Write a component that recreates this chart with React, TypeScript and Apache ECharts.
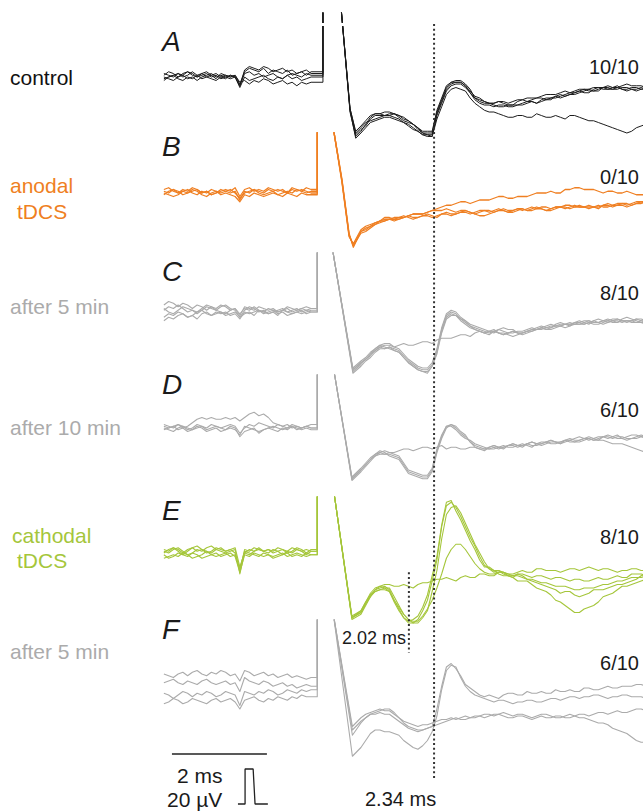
import React, { useEffect, useRef } from "react";
import * as echarts from "echarts";

// ---------- time bases (ms) ----------
const PRE_T = [-3.35, -3.25, -3.15, -3.05, -2.95, -2.85, -2.75, -2.65, -2.55, -2.45, -2.35, -2.25, -2.15, -2.05, -1.95, -1.85, -1.75, -1.65, -1.55, -1.45, -1.35, -1.25, -1.15, -1.05, -0.95, -0.85, -0.75, -0.65, -0.55, -0.45, -0.35, -0.25];
const TAIL_T = [0.8, 1.0, 1.2, 1.4, 1.6, 1.8, 2.0, 2.2, 2.4, 2.6, 2.8, 3.0, 3.2, 3.4, 3.6, 3.8, 4.0, 4.2, 4.4, 4.6, 4.8, 5.0, 5.2, 5.4, 5.6, 5.8, 6.0, 6.2, 6.4, 6.6, 6.8];
const MID_T = [0.9, 1.1, 1.3, 1.5, 1.7, 1.9, 2.1, 2.3, 2.5, 2.7, 2.9, 3.1, 3.3, 3.5, 3.7, 3.9, 4.1, 4.3, 4.5, 4.7, 4.9, 5.1, 5.3, 5.5, 5.7, 5.9, 6.1, 6.3, 6.5, 6.7];
const HEAD_T_A = [0.38, 0.57, 0.69];
const HEAD_T_B = [0.2, 0.4, 0.55, 0.64];
const HEAD_T_C = [0.2, 0.63];
const HEAD_T_D = [0.23, 0.61];
const HEAD_T_E = [0.23, 0.61];
const HEAD_T_F = [0.22, 0.62];
const STIM_A = 0;
const STIM_OTHERS = -0.12;
const ART_TOP = 90; // saturated stimulus artefact (µV, off scale)
const LAT_MAIN = 2.34;
const LAT_E = 1.81;

// ---------- A: control (µV) ----------
const A_PRE = [
  [1, 3, 2, 0, 2, 3, 1, 0, 2, 3, 1, 2, 0, -1, 1, 0, -5, 2, 3, 1, 2, 0, 1, 2, 0, -1, 1, 2, 1, 0, 2, 1],
  [-1, 0, 1, 2, 0, 1, 3, 1, -1, 0, 1, -1, 2, 1, 0, 1, -4, 3, 5, 4, 3, 5, 2, 4, 3, 2, 4, 1, 2, 3, 1, 3],
  [0, -1, -2, 0, 1, -1, 0, -2, 0, 1, 2, 0, 1, 0, -1, 0, -6, 0, -2, -1, 0, 1, -1, -2, 0, -1, 1, -1, 0, -2, -1, 0],
  [-2, 0, 1, -1, -2, 0, -1, 1, 2, 0, -1, -2, 0, 1, 0, 1, -3, -2, -4, -2, -3, -1, -2, -4, -3, -2, -4, -3, -5, -3, -4, -3],
  [2, 1, 0, 2, 1, 3, 2, 0, 1, 2, 0, 1, -1, 0, 1, 0, -5, 4, 6, 5, 4, 6, 5, 3, 4, 5, 3, 4, 2, 3, 4, 2],
];
const A_POST = [
  [40, -19, -33, -30, -24, -22, -21, -23, -26, -30, -32, -20, -6, -2, -4, -12, -15, -16, -17, -16, -15, -14, -13, -12, -11, -9, -8, -8, -7, -7, -6, -7, -6, -7],
  [40, -18, -32, -29, -25, -23, -22, -24, -27, -31, -33, -21, -7, -3, -5, -13, -16, -17, -16, -17, -16, -14, -14, -12, -12, -10, -9, -7, -8, -6, -7, -6, -8, -6],
  [40, -20, -34, -31, -23, -21, -22, -22, -25, -29, -33, -22, -8, -4, -6, -12, -14, -15, -15, -16, -13, -13, -12, -13, -10, -10, -8, -9, -6, -7, -5, -8, -7, -5],
  [40, -19, -35, -32, -26, -24, -23, -25, -28, -31, -34, -24, -10, -6, -8, -15, -19, -20, -22, -23, -22, -23, -22, -23, -23, -22, -23, -25, -26, -28, -30, -32, -29, -27],
  [40, -18, -31, -28, -22, -21, -20, -22, -25, -29, -31, -19, -5, -3, -5, -11, -14, -15, -14, -14, -13, -12, -11, -10, -9, -9, -7, -7, -6, -5, -6, -4, -5, -6],
];
const A_MID = [
  [-28, -22, -22, -21, -25, -27, -32, -32, -13, -3, -2, -7, -14, -15, -17, -16, -16, -14, -15, -12, -12, -10, -9, -7, -8, -6, -7, -7, -6, -7],
  [-26, -24, -22, -23, -26, -29, -33, -33, -14, -4, -3, -9, -15, -16, -16, -17, -16, -15, -15, -13, -11, -11, -10, -8, -8, -6, -7, -6, -7, -7],
  [-27, -21, -22, -21, -24, -27, -32, -34, -15, -5, -4, -9, -13, -15, -14, -16, -14, -14, -12, -13, -11, -11, -9, -9, -7, -7, -6, -7, -7, -6],
  [-29, -25, -23, -24, -26, -30, -33, -34, -17, -7, -7, -12, -17, -20, -21, -23, -22, -23, -21, -23, -22, -24, -22, -24, -25, -27, -29, -31, -31, -28],
  [-25, -21, -20, -21, -23, -27, -31, -31, -12, -3, -3, -8, -12, -15, -14, -15, -13, -12, -12, -10, -10, -8, -8, -7, -6, -6, -6, -5, -5, -5],
];

// ---------- B: anodal tDCS ----------
const B_PRE = [
  [1, 0, 2, 1, -1, 0, 1, 2, 0, 1, -1, 0, 2, 1, 0, 1, -4, 1, 0, 2, 1, 0, 2, 1, -1, 0, 1, 0, 2, 1, 0, 1],
  [-1, 1, 2, 0, 1, 2, 0, -1, 1, 0, 2, 1, 0, 1, 2, 0, -3, 0, 1, 2, 0, -1, 0, 1, 2, 1, 0, 2, 1, 2, 1, 0],
  [0, -1, -2, -1, 1, 0, 2, 1, -1, -2, 0, 1, -1, 0, -1, -2, -5, -1, -2, 0, -1, -2, -1, 0, -1, -2, 0, -1, -2, 0, -1, -1],
  [2, 3, 1, 0, 2, 1, 3, 2, 0, 1, -1, 0, 1, 2, 1, 3, -2, 2, 3, 1, 2, 1, 3, 2, 1, 2, 0, 3, 2, 1, 3, 2],
];
const B_POST = [
  [40, 7, -24, -30, -23, -20, -17, -15, -14, -14, -14, -13, -13, -12, -12, -11, -11, -10, -10, -10, -10, -9, -9, -9, -9, -8, -8, -8, -7, -8, -7, -7, -6, -6, -6],
  [40, 8, -23, -31, -22, -19, -16, -15, -15, -13, -14, -12, -14, -11, -12, -10, -12, -10, -11, -9, -10, -10, -8, -9, -10, -8, -9, -7, -8, -9, -6, -7, -8, -6, -5],
  [40, 6, -25, -29, -21, -18, -16, -14, -15, -13, -12, -11, -10, -9, -11, -10, -12, -13, -11, -10, -11, -9, -10, -8, -9, -8, -7, -8, -9, -7, -8, -6, -7, -5, -5],
  [40, 7, -24, -30, -22, -19, -16, -15, -14, -13, -12, -11, -9, -7, -6, -5, -5, -4, -3, -2, -3, -2, -1, 0, 1, 0, 2, 3, 2, 1, 1, 0, 1, -1, -1],
];
const B_MID = [
  [-22, -18, -16, -15, -13, -15, -13, -14, -12, -13, -11, -12, -10, -11, -9, -11, -9, -10, -8, -10, -8, -9, -7, -8, -8, -7, -8, -6, -7, -5],
  [-20, -18, -15, -16, -14, -14, -13, -13, -12, -12, -11, -11, -11, -10, -10, -10, -9, -9, -9, -10, -9, -8, -8, -8, -8, -7, -7, -7, -7, -6],
  [-19, -17, -14, -15, -14, -12, -12, -10, -10, -10, -10, -11, -13, -12, -10, -11, -10, -10, -9, -8, -8, -7, -8, -8, -8, -8, -7, -6, -6, -5],
  [-21, -17, -16, -14, -14, -12, -12, -10, -8, -7, -5, -6, -4, -4, -2, -3, -2, -2, 0, 0, 0, 2, 3, 2, 2, 0, 1, 0, 0, -1],
];

// ---------- C: after 5 min ----------
const C_PRE = [
  [4, 6, 5, 3, 5, 4, 2, 4, 3, 1, 3, 2, 4, 3, 1, 2, -1, 2, 1, 3, 1, 0, 2, 1, 0, 1, 2, 0, 1, 2, 1, 2],
  [-3, -1, -2, 0, -1, -3, -2, 0, 1, -1, -2, 0, -1, 0, -2, -1, -4, 0, -1, 0, 1, -1, 0, 1, -1, 0, -2, -1, 0, -1, 0, 1],
  [1, 3, 2, 4, 2, 0, 1, -1, 1, 3, 2, 1, 3, 4, 2, 1, -3, 1, 3, 2, 0, 1, -1, 0, 1, 2, 0, 1, 2, 0, 1, 0],
  [-5, -3, -4, -2, -1, -3, -2, -4, -1, 0, -2, -1, 0, -2, -1, 0, -3, -1, 0, -2, 1, 0, -1, 0, -2, 1, 0, -1, 0, 1, -1, 0],
  [2, 0, -1, 1, 3, 2, 1, 0, 2, 4, 3, 1, 0, -1, 1, 2, -2, 3, 2, 1, 3, 2, 1, 2, 0, 1, 3, 2, 1, 2, 3, 2],
];
const C_POST = [
  [36, -33, -29, -25, -20, -20, -22, -28, -32, -33, -22, -2, -1, -6, -9, -11, -11, -11, -12, -11, -9, -10, -8, -7, -7, -6, -6, -6, -6, -5, -5, -6, -7],
  [36, -34, -30, -24, -19, -21, -23, -29, -33, -34, -23, -3, -2, -5, -10, -12, -10, -13, -11, -12, -10, -8, -9, -6, -8, -5, -7, -4, -6, -4, -6, -4, -5],
  [36, -32, -28, -23, -19, -18, -21, -27, -31, -32, -21, -1, 0, -5, -8, -10, -12, -9, -10, -13, -11, -9, -7, -8, -6, -7, -5, -6, -4, -6, -3, -5, -6],
  [36, -35, -31, -26, -21, -20, -23, -29, -33, -35, -24, -4, -2, -7, -10, -12, -11, -12, -14, -12, -11, -9, -9, -8, -7, -6, -5, -6, -5, -4, -5, -4, -6],
  [36, -33, -29, -24, -20, -19, -19, -19, -18, -17, -16, -15, -14, -13, -12, -12, -11, -13, -11, -12, -10, -9, -10, -8, -8, -7, -6, -7, -5, -6, -5, -6, -5],
];
const C_MID = [
  [-27, -22, -21, -21, -25, -30, -33, -30, -10, 0, -4, -8, -10, -12, -10, -12, -11, -10, -10, -9, -8, -7, -6, -7, -5, -7, -5, -6, -5, -6],
  [-27, -21, -20, -22, -26, -31, -34, -31, -11, -1, -4, -8, -11, -11, -12, -12, -12, -11, -9, -9, -7, -7, -6, -6, -5, -5, -5, -5, -5, -4],
  [-26, -21, -18, -20, -24, -29, -32, -29, -9, 1, -3, -7, -9, -11, -10, -10, -12, -12, -10, -8, -8, -7, -7, -6, -6, -5, -5, -4, -4, -6],
  [-28, -23, -21, -22, -26, -31, -34, -31, -12, -2, -5, -9, -11, -11, -12, -13, -13, -11, -10, -10, -8, -7, -7, -5, -6, -5, -4, -5, -5, -5],
  [-27, -22, -19, -20, -18, -19, -17, -18, -15, -15, -13, -14, -11, -13, -12, -12, -12, -11, -10, -10, -9, -9, -7, -7, -7, -6, -6, -5, -6, -5],
];

// ---------- D: after 10 min ----------
const D_PRE = [
  [1, 0, 1, 2, 0, 1, 3, 5, 6, 5, 6, 5, 5, 6, 5, 6, 4, 6, 8, 9, 7, 8, 6, 3, 2, 1, 2, 0, 1, 0, 1, 0],
  [-1, 0, 1, -1, 0, -2, -1, 0, 1, -1, 0, 1, 0, -1, 1, 0, -5, -2, -1, 0, -3, -1, 0, 1, 0, -1, 0, 1, -1, 0, 1, 0],
  [0, -1, -2, 0, 1, 0, -1, 1, 0, -2, -1, 0, -2, -1, 0, -1, -4, 1, 0, -1, -2, -1, 0, -1, -2, 0, -1, 1, 0, -1, 0, -1],
  [2, 1, 0, 2, 1, -1, 0, 2, 1, 0, 2, 1, 0, 1, 2, 1, -3, 0, 2, 1, 3, 2, 1, 0, 2, 1, 0, 2, 1, 0, 1, 2],
];
const D_POST = [
  [33, -29, -24, -18, -14, -15, -17, -25, -27, -28, -13, 1, 0, -5, -10, -12, -11, -11, -10, -10, -10, -9, -9, -8, -8, -7, -6, -6, -5, -5, -6, -5, -5],
  [33, -28, -23, -17, -13, -16, -18, -26, -28, -29, -14, 0, 1, -4, -11, -13, -10, -12, -9, -11, -8, -10, -8, -9, -6, -7, -5, -7, -4, -6, -5, -4, -6],
  [33, -30, -25, -19, -15, -14, -16, -24, -26, -27, -12, 1, -1, -6, -9, -11, -12, -10, -11, -9, -11, -8, -7, -9, -7, -5, -7, -5, -6, -4, -7, -6, -4],
  [33, -29, -24, -18, -14, -14, -13, -12, -12, -11, -11, -12, -11, -12, -11, -12, -10, -11, -9, -10, -8, -9, -7, -8, -7, -8, -6, -7, -8, -9, -10, -12, -14],
];
const D_MID = [
  [-21, -15, -15, -16, -21, -26, -28, -24, -5, 2, -3, -8, -11, -12, -12, -10, -11, -9, -10, -8, -9, -7, -8, -6, -7, -5, -6, -5, -6, -4],
  [-20, -15, -14, -17, -22, -27, -29, -25, -6, 2, -2, -8, -12, -11, -11, -10, -10, -9, -9, -9, -8, -7, -7, -6, -6, -5, -5, -6, -4, -5],
  [-22, -16, -15, -15, -20, -25, -27, -23, -4, 1, -4, -7, -10, -12, -11, -11, -10, -10, -9, -8, -8, -8, -6, -6, -6, -5, -5, -6, -6, -5],
  [-21, -16, -13, -14, -12, -13, -11, -12, -10, -11, -12, -11, -12, -11, -11, -10, -10, -9, -9, -8, -8, -7, -8, -7, -7, -7, -9, -9, -11, -13],
];

// ---------- E: cathodal tDCS ----------
const E_PRE = [
  [2, 1, 3, 2, 0, 2, 3, 1, 2, 0, 1, 3, 2, 1, 2, 0, -10, 2, 1, 3, 2, 1, 2, 0, 1, 2, 1, 3, 2, 1, 2, 1],
  [-1, -3, -2, 0, -1, -2, 0, -1, -3, -2, -1, 0, -2, -1, 0, -2, -11, -1, -2, 0, -1, -2, -1, -3, -2, -1, 0, -2, -1, -2, 0, -1],
  [0, 2, 3, 1, -1, 1, 3, 4, 2, 1, 0, 2, 3, 1, 2, 3, -8, 0, -1, 1, 2, 1, 0, 2, 1, -1, 1, 0, 2, 1, -1, 1],
  [-3, -2, -1, -2, 0, -1, -3, -2, -1, 1, -1, -2, -1, 0, -2, -1, -9, 1, 0, -1, -2, 0, -1, -2, -1, 0, -2, -1, 0, -1, -2, -1],
  [1, 0, 2, 3, 1, -1, 0, 2, 1, 3, 4, 2, 1, 0, 1, 2, -12, 0, 2, 1, 3, 1, 2, 1, 3, 2, 0, 1, 3, 2, 0, 2],
];
const E_POST = [
  [35, -37, -34, -24, -20, -21, -32, -40, -38, -27, -4, 27, 26, 15, 4, -7, -10, -12, -13, -14, -15, -17, -18, -19, -20, -21, -20, -19, -18, -16, -15, -14, -13],
  [35, -36, -33, -23, -19, -22, -33, -39, -36, -24, -2, 29, 24, 13, 2, -8, -10, -13, -14, -16, -18, -21, -24, -28, -32, -34, -31, -28, -24, -21, -19, -17, -15],
  [35, -38, -35, -25, -21, -20, -30, -38, -40, -33, -10, 22, 27, 17, 5, -5, -11, -11, -14, -13, -16, -18, -20, -23, -22, -25, -23, -21, -20, -18, -17, -15, -12],
  [35, -37, -33, -24, -21, -22, -31, -38, -39, -32, -20, -3, 5, 2, -6, -11, -12, -11, -13, -12, -14, -13, -15, -14, -16, -15, -16, -14, -15, -13, -14, -12, -13],
  [35, -37, -34, -25, -19, -18, -19, -19, -18, -17, -15, -14, -16, -13, -14, -12, -13, -11, -12, -10, -11, -9, -10, -11, -9, -10, -8, -10, -9, -11, -10, -9, -10],
];
const E_MID = [
  [-29, -21, -19, -27, -37, -40, -33, -16, 15, 29, 21, 9, -2, -9, -10, -13, -13, -15, -16, -17, -19, -19, -21, -20, -20, -18, -17, -16, -14, -14],
  [-28, -20, -20, -28, -37, -38, -31, -13, 16, 30, 19, 7, -4, -8, -12, -13, -16, -16, -20, -22, -27, -30, -34, -32, -30, -25, -23, -19, -18, -16],
  [-30, -22, -20, -25, -35, -40, -37, -22, 8, 26, 23, 11, 0, -9, -10, -13, -12, -15, -17, -19, -21, -22, -24, -24, -21, -21, -19, -18, -16, -13],
  [-28, -22, -21, -27, -35, -39, -36, -27, -12, 2, 5, -2, -9, -12, -11, -12, -12, -13, -13, -14, -14, -15, -15, -16, -15, -15, -14, -14, -12, -12],
  [-29, -21, -18, -19, -18, -20, -17, -16, -15, -15, -14, -14, -12, -13, -11, -12, -11, -11, -9, -10, -10, -10, -9, -9, -9, -9, -10, -10, -9, -10],
];

// ---------- F: after 5 min ----------
const F_PRE = [
  [8, 7, 6, 8, 9, 7, 9, 10, 8, 7, 9, 8, 10, 9, 7, 8, 4, 10, 9, 7, 8, 9, 7, 8, 6, 7, 8, 6, 7, 6, 5, 6],
  [3, 4, 5, 3, 2, 4, 3, 2, 4, 5, 3, 2, 3, 4, 2, 3, -2, 6, 4, 3, 2, 4, 3, 1, 2, 3, 1, 2, 0, 1, 2, 1],
  [-3, -4, -6, -4, -2, -3, -5, -3, -4, -2, -3, -5, -4, -2, -3, -4, -10, -2, -3, -4, -2, -3, -1, -2, -4, -3, -1, -2, -3, -1, -2, -1],
  [-9, -8, -6, -7, -9, -8, -6, -7, -8, -9, -7, -6, -8, -7, -6, -8, -12, -7, -6, -5, -7, -8, -6, -7, -5, -6, -7, -5, -6, -4, -5, -5],
];
const F_POST = [
  [42, -27, -20, -15, -13, -12, -17, -22, -24, -23, -12, 12, 11, 2, -2, -5, -5, -4, -3, -4, -3, -2, -3, -2, -1, -2, 0, -1, 1, 0, 1, 2, 1],
  [42, -39, -34, -26, -24, -25, -27, -32, -35, -30, -16, 10, 12, 1, -4, -6, -8, -7, -9, -8, -7, -8, -6, -7, -5, -6, -5, -4, -6, -5, -4, -5, -6],
  [42, -22, -17, -14, -12, -13, -17, -20, -22, -21, -19, -18, -18, -16, -17, -15, -16, -14, -16, -15, -17, -15, -16, -17, -15, -17, -18, -20, -21, -24, -26, -30, -31],
  [42, -24, -19, -15, -14, -15, -19, -23, -25, -23, -21, -19, -17, -18, -16, -17, -15, -16, -17, -16, -18, -16, -17, -16, -17, -15, -16, -14, -15, -13, -14, -12, -13],
];
const F_MID = [
  [-17, -14, -12, -14, -20, -23, -24, -22, 1, 14, 7, 0, -4, -4, -6, -3, -4, -2, -3, -3, -1, -2, -2, 0, -1, 0, 0, 1, 1, 2],
  [-30, -24, -25, -26, -30, -34, -33, -25, -1, 13, 6, -2, -5, -7, -7, -8, -8, -7, -8, -7, -6, -6, -5, -5, -4, -5, -5, -4, -5, -5],
  [-15, -13, -13, -15, -19, -21, -21, -20, -18, -17, -17, -17, -16, -15, -15, -15, -15, -16, -16, -15, -17, -16, -16, -17, -19, -20, -23, -25, -28, -31],
  [-17, -15, -15, -17, -21, -24, -24, -22, -20, -18, -18, -17, -16, -16, -15, -17, -16, -17, -17, -17, -16, -17, -16, -15, -15, -14, -14, -14, -13, -12],
];

// ---------- calibration ----------
const CAL_BAR_T = [-3.18, -1.18]; // 2 ms
const CAL_PULSE_T = [-1.79, -1.64, -1.64, -1.47, -1.43, -1.16];
const CAL_PULSE_V = [0, 0, 20, 20, 0, 0]; // 20 µV

// ---------- text ----------
const FRACTIONS = ["10/10", "0/10", "8/10", "6/10", "8/10", "6/10"];
const LETTERS = ["A", "B", "C", "D", "E", "F"];

// ---------- layout ----------
const T0_PX = 323;
const PX_PER_MS = 47.5;
const PX_PER_UV = 1.75;
const X_MIN = -3.4;
const X_MAX = 6.74;
const GRID_H = 160;
const FONT = '"Liberation Sans", Arial, Helvetica, sans-serif';
const GRAY = "#ababab";
const ORANGE = "#ef7f22";
const GREEN = "#a5c63b";

const PANELS = [
  { top: 13, base: 77, color: "#1c1c1c", width: 1, stim: STIM_A, head: HEAD_T_A, pre: A_PRE, post: A_POST, mid: A_MID, letterY: 41, fracY: 67 },
  { top: 133, base: 193, color: ORANGE, width: 1.3, stim: STIM_OTHERS, head: HEAD_T_B, pre: B_PRE, post: B_POST, mid: B_MID, letterY: 146, fracY: 177 },
  { top: 253, base: 312, color: GRAY, width: 1.1, stim: STIM_OTHERS, head: HEAD_T_C, pre: C_PRE, post: C_POST, mid: C_MID, letterY: 271, fracY: 293 },
  { top: 375, base: 428, color: GRAY, width: 1.1, stim: STIM_OTHERS, head: HEAD_T_D, pre: D_PRE, post: D_POST, mid: D_MID, letterY: 384, fracY: 410 },
  { top: 497, base: 553, color: GREEN, width: 1.1, stim: STIM_OTHERS, head: HEAD_T_E, pre: E_PRE, post: E_POST, mid: E_MID, letterY: 510, fracY: 537 },
  { top: 620, base: 688, color: GRAY, width: 1.1, stim: STIM_OTHERS, head: HEAD_T_F, pre: F_PRE, post: F_POST, mid: F_MID, letterY: 629, fracY: 663 },
];

const LEFT_LABELS = [
  { text: "control", x: 10, y: 77, color: "#111" },
  { text: "anodal", x: 10, y: 185, color: ORANGE },
  { text: "tDCS", x: 17, y: 211, color: ORANGE },
  { text: "after 5 min", x: 10, y: 306, color: GRAY },
  { text: "after 10 min", x: 10, y: 427, color: GRAY },
  { text: "cathodal", x: 12, y: 535, color: GREEN },
  { text: "tDCS", x: 17, y: 560, color: GREEN },
  { text: "after 5 min", x: 10, y: 651, color: GRAY },
];

function buildOption() {
  const gridLeft = T0_PX + X_MIN * PX_PER_MS;
  const gridW = (X_MAX - X_MIN) * PX_PER_MS;
  const grids: any[] = [];
  const xAxes: any[] = [];
  const yAxes: any[] = [];
  const series: any[] = [];

  PANELS.forEach((p, gi) => {
    grids.push({ left: gridLeft, width: gridW, top: p.top, height: GRID_H });
    xAxes.push({ gridIndex: gi, type: "value", min: X_MIN, max: X_MAX, show: false });
    const yMax = (p.base - p.top) / PX_PER_UV;
    yAxes.push({ gridIndex: gi, type: "value", min: yMax - GRID_H / PX_PER_UV, max: yMax, show: false });
    p.pre.forEach((pre, i) => {
      const post = p.post[i];
      const mid = p.mid[i];
      const nh = p.head.length;
      const data: any[] = PRE_T.map((t, k) => [t, pre[k]]);
      data.push([p.stim, pre[pre.length - 1]]);
      data.push([p.stim, ART_TOP]);
      data.push([p.stim + 0.05, "-"]);
      p.head.forEach((t, k) => data.push([t, post[k]]));
      TAIL_T.forEach((t, k) => {
        data.push([t, post[nh + k]]);
        if (k < MID_T.length) data.push([MID_T[k], mid[k]]);
      });
      series.push({
        type: "line", xAxisIndex: gi, yAxisIndex: gi, data, symbol: "none", silent: true,
        clip: true, connectNulls: false,
        lineStyle: { color: p.color, width: p.width, join: "round" },
      });
    });
  });

  // small latency marker in panel E
  series.push({
    type: "line", xAxisIndex: 4, yAxisIndex: 4, data: [[LAT_E, -11], [LAT_E, -57]], symbol: "none", silent: true,
    lineStyle: { color: "#333", width: 2, type: [2, 2.7] },
  });

  // overlay grid for main latency line
  grids.push({ left: gridLeft, width: gridW, top: 23, height: 755 });
  xAxes.push({ gridIndex: 6, type: "value", min: X_MIN, max: X_MAX, show: false });
  yAxes.push({ gridIndex: 6, type: "value", min: 0, max: 1, show: false });
  series.push({
    type: "line", xAxisIndex: 6, yAxisIndex: 6, data: [[LAT_MAIN, 0], [LAT_MAIN, 1]], symbol: "none", silent: true,
    lineStyle: { color: "#333", width: 2, type: [2, 2.7] },
  });

  // calibration grid
  const calTop = 740, calH = 70, calZero = 804;
  const calMax = (calZero - calTop) / PX_PER_UV;
  grids.push({ left: gridLeft, width: gridW, top: calTop, height: calH });
  xAxes.push({ gridIndex: 7, type: "value", min: X_MIN, max: X_MAX, show: false });
  yAxes.push({ gridIndex: 7, type: "value", min: calMax - calH / PX_PER_UV, max: calMax, show: false });
  const barV = (calZero - 754) / PX_PER_UV;
  series.push({
    type: "line", xAxisIndex: 7, yAxisIndex: 7, data: CAL_BAR_T.map((t) => [t, barV]), symbol: "none", silent: true,
    lineStyle: { color: "#222", width: 1.3 },
  });
  series.push({
    type: "line", xAxisIndex: 7, yAxisIndex: 7, data: CAL_PULSE_T.map((t, k) => [t, CAL_PULSE_V[k]]), symbol: "none", silent: true,
    lineStyle: { color: "#222", width: 1.3 },
  });

  const txt = (text: string, x: number, y: number, size: number, fill: string, align = "left", italic = false) => ({
    type: "text", x, y, silent: true,
    style: {
      text, fill, font: `${italic ? "italic " : ""}${size}px ${FONT}`,
      textAlign: align, align, textVerticalAlign: "middle", verticalAlign: "middle",
    },
  });

  const graphics: any[] = [];
  // small break marks at the top of the control artefact
  graphics.push({ type: "rect", shape: { x: 320, y: 23, width: 26, height: 3 }, style: { fill: "#fff" }, silent: true, z: 100 });
  PANELS.forEach((p, i) => {
    graphics.push(txt(LETTERS[i], 162, p.letterY, 28, "#1a1a1a", "left", true));
    graphics.push(txt(FRACTIONS[i], 639, p.fracY, 20, "#1a1a1a", "right"));
  });
  LEFT_LABELS.forEach((l) => graphics.push(txt(l.text, l.x, l.y, 21, l.color)));
  graphics.push(txt("2.02 ms", 342, 638, 18, "#1a1a1a"));
  graphics.push(txt("2.34 ms", 365, 799, 20, "#1a1a1a"));
  graphics.push(txt("2 ms", 177, 775, 21, "#1a1a1a"));
  graphics.push(txt("20 µV", 167, 799, 21, "#1a1a1a"));

  return {
    animation: false,
    backgroundColor: "#ffffff",
    grid: grids,
    xAxis: xAxes,
    yAxis: yAxes,
    series,
    graphic: graphics,
  };
}

export default function App() {
  const ref = useRef<HTMLDivElement>(null);
  useEffect(() => {
    if (!ref.current) return;
    const chart = echarts.init(ref.current, undefined, { renderer: "svg" });
    chart.setOption(buildOption() as any);
    return () => chart.dispose();
  }, []);
  return <div ref={ref} style={{ position: "absolute", left: 0, top: 0, width: 643, height: 811 }} />;
}
